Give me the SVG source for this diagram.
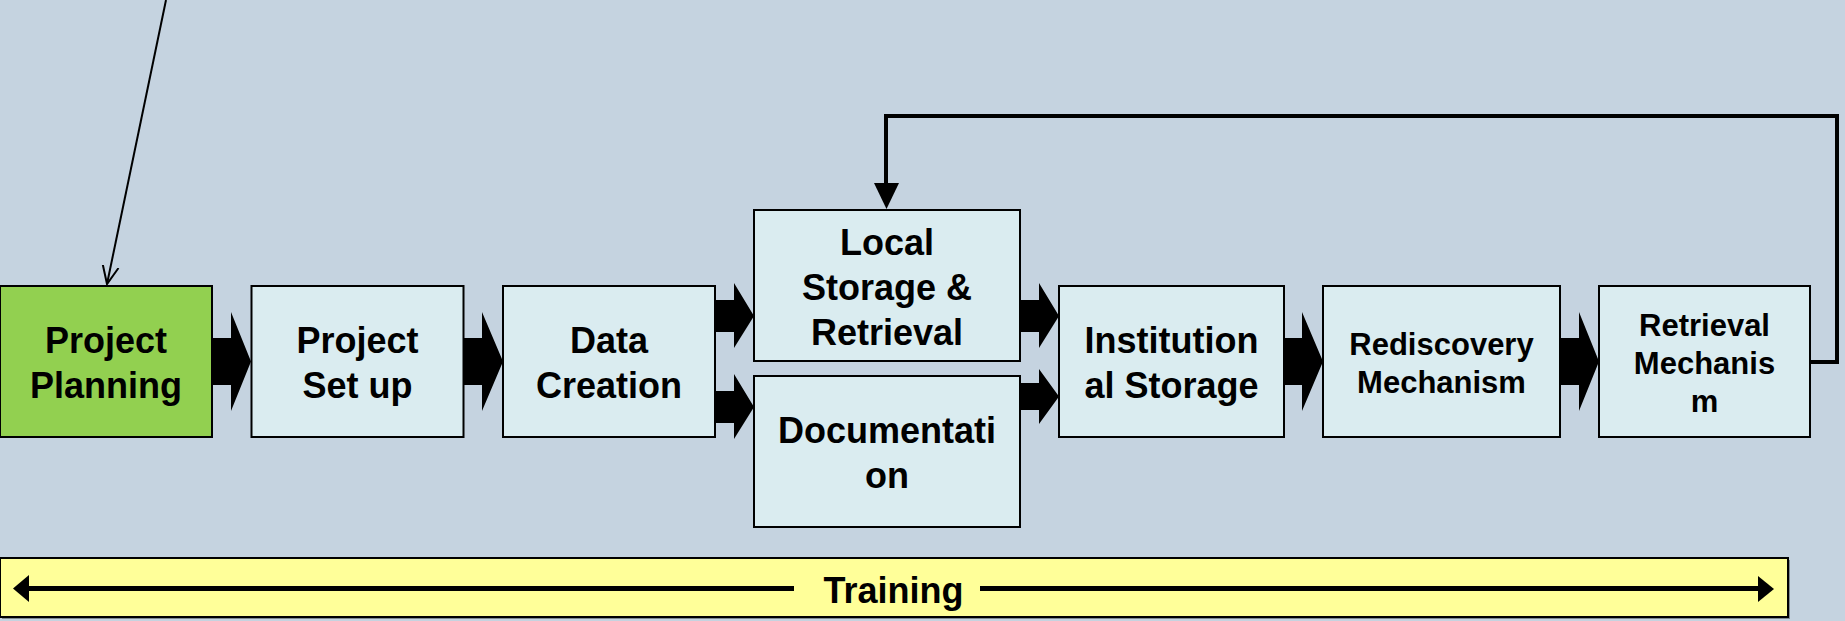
<svg xmlns="http://www.w3.org/2000/svg" width="1845" height="621" viewBox="0 0 1845 621">
<defs>
<style>
.box{fill:#DAECF0;stroke:#000;stroke-width:2}
.green{fill:#92D050;stroke:#000;stroke-width:2}
.t{font-family:"Liberation Sans",Arial,sans-serif;font-weight:bold;font-size:36px;text-anchor:middle;fill:#000}
.s{font-size:31px}
.blk{fill:#000}
</style>
<marker id="open" viewBox="0 0 20 20" refX="18" refY="10" markerWidth="20" markerHeight="20" markerUnits="userSpaceOnUse" orient="auto">
<path d="M0,2 L18,10 L0,18" fill="none" stroke="#000" stroke-width="2"/>
</marker>
</defs>
<rect x="0" y="0" width="1845" height="621" fill="#C5D3E0"/>

<g id="connectors">
<line x1="166" y1="0" x2="107" y2="284" stroke="#000" stroke-width="2" marker-end="url(#open)"/>
<polygon class="blk" points="212,338 231,338 231,312 251,361.5 231,411 231,385 212,385"/>
<polygon class="blk" points="464,338 482,338 482,312 503,361.5 482,411 482,385 464,385"/>
<polygon class="blk" points="715,300 734,300 734,283 754,316 734,348 734,332 715,332"/>
<polygon class="blk" points="715,391 734,391 734,374 754,407 734,439 734,423 715,423"/>
<polygon class="blk" points="1020,300 1039,300 1039,283 1059,316 1039,348 1039,332 1020,332"/>
<polygon class="blk" points="1020,383 1039,383 1039,369 1059,396.5 1039,424 1039,410 1020,410"/>
<polygon class="blk" points="1284,338 1302,338 1302,312 1323,361.5 1302,411 1302,385 1284,385"/>
<polygon class="blk" points="1560,338 1579,338 1579,312 1599,361.5 1579,411 1579,385 1560,385"/>
<path d="M1810,362 H1837 V116 H886 V184" fill="none" stroke="#000" stroke-width="4"/>
<polygon class="blk" points="874,183 899,183 886.5,209"/>
</g>

<g id="n-project-planning">
<rect class="green" x="0" y="286" width="212" height="151"/>
<text class="t" x="106" y="353">Project</text>
<text class="t" x="106" y="398">Planning</text>
</g>
<g id="n-project-setup">
<rect class="box" x="251.5" y="286" width="212" height="151"/>
<text class="t" x="357.5" y="353">Project</text>
<text class="t" x="357.5" y="398">Set up</text>
</g>
<g id="n-data-creation">
<rect class="box" x="503" y="286" width="212" height="151"/>
<text class="t" x="609" y="353">Data</text>
<text class="t" x="609" y="398">Creation</text>
</g>
<g id="n-local-storage">
<rect class="box" x="754" y="210" width="266" height="151"/>
<text class="t" x="887" y="254.5">Local</text>
<text class="t" x="887" y="299.5">Storage &amp;</text>
<text class="t" x="887" y="344.5">Retrieval</text>
</g>
<g id="n-documentation">
<rect class="box" x="754" y="376" width="266" height="151"/>
<text class="t" x="887" y="443">Documentati</text>
<text class="t" x="887" y="488">on</text>
</g>
<g id="n-institutional">
<rect class="box" x="1059" y="286" width="225" height="151"/>
<text class="t" x="1171.5" y="353">Institution</text>
<text class="t" x="1171.5" y="398">al Storage</text>
</g>
<g id="n-rediscovery">
<rect class="box" x="1323" y="286" width="237" height="151"/>
<text class="t s" x="1441.5" y="355">Rediscovery</text>
<text class="t s" x="1441.5" y="393">Mechanism</text>
</g>
<g id="n-retrieval">
<rect class="box" x="1599" y="286" width="211" height="151"/>
<text class="t s" x="1704.5" y="335.5">Retrieval</text>
<text class="t s" x="1704.5" y="373.5">Mechanis</text>
<text class="t s" x="1704.5" y="411.5">m</text>
</g>

<g id="n-training">
<rect x="2" y="560" width="1788" height="59" fill="#7F8A93"/>
<rect x="0" y="558" width="1788" height="59" fill="#FFFF99" stroke="#000" stroke-width="2"/>
<line x1="28" y1="588.5" x2="794" y2="588.5" stroke="#000" stroke-width="5"/>
<line x1="980" y1="588.5" x2="1759" y2="588.5" stroke="#000" stroke-width="5"/>
<polygon class="blk" points="13,588.5 29,575 29,602"/>
<polygon class="blk" points="1774,589 1758,576 1758,602"/>
<text class="t" x="893.5" y="603">Training</text>
</g>
</svg>
